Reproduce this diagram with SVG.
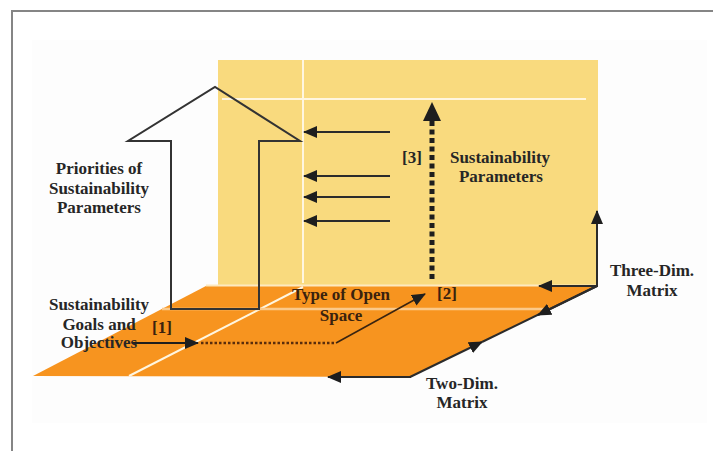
<svg xmlns="http://www.w3.org/2000/svg" width="713" height="451" viewBox="0 0 713 451">
  <style>
    .lbl { font-family: "Liberation Serif", "Times New Roman", serif; font-weight: bold; font-size: 17px; fill: #262626; text-anchor: middle; }
    .lbl-o { fill: #3a220e; }
    .ln { stroke: #2b2b2b; stroke-width: 2; fill: none; }
    .thin { stroke: #3a2410; stroke-width: 1.6; fill: none; }
    .wl { stroke: #fff6e0; stroke-width: 2; fill: none; }
  </style>
  <defs>
    <marker id="ah" markerUnits="userSpaceOnUse" markerWidth="14" markerHeight="12" refX="13" refY="6" orient="auto">
      <path d="M0,0 L14,6 L0,12 z" fill="#1e1e1e"/>
    </marker>
  </defs>

  <!-- page frame -->
  <rect x="0" y="0" width="713" height="451" fill="#ffffff"/>
  <rect x="32" y="40" width="675" height="383" fill="#fdfdfd"/>
  <path d="M12,451 L12,11 L713,11" stroke="#858585" stroke-width="2" fill="none"/>

  <!-- vertical plane -->
  <g id="plane-vertical">
    <rect x="218" y="60" width="380" height="225" fill="#f9da7e"/>
    <line class="wl" x1="303" y1="60" x2="303" y2="283"/>
    <line class="wl" x1="222" y1="99" x2="586" y2="99"/>
  </g>

  <!-- floor plane -->
  <g id="plane-floor">
    <polygon points="33,376 410,377 597,286 206,286" fill="#f7941f"/>
    <line x1="206" y1="285.5" x2="597" y2="285.5" stroke="#fde9c0" stroke-width="2"/>
    <line class="wl" x1="303" y1="287" x2="129" y2="376"/>
    <line x1="162" y1="309" x2="549" y2="309" stroke="#fbc98a" stroke-width="2.5"/>
  </g>

  <!-- large hollow arrow -->
  <g id="priorities-arrow">
    <polygon points="171,309 171,141 128,141 215,87 300,141 259,141 259,309" fill="none" stroke="#333333" stroke-width="2"/>
  </g>

  <!-- connectors -->
  <g id="connectors">
    <!-- parameter arrows on the vertical plane -->
    <line class="ln" x1="390" y1="132" x2="304" y2="132" marker-end="url(#ah)"/>
    <line class="ln" x1="390" y1="176" x2="304" y2="176" marker-end="url(#ah)"/>
    <line class="ln" x1="390" y1="197" x2="304" y2="197" marker-end="url(#ah)"/>
    <line class="ln" x1="390" y1="221" x2="304" y2="221" marker-end="url(#ah)"/>
    <!-- [3] dotted rise -->
    <line x1="432" y1="279" x2="432" y2="121" stroke="#1e1e1e" stroke-width="5" stroke-dasharray="5 3.5"/>
    <path d="M423,121 L432,102 L441,121 z" fill="#1e1e1e"/>
    <!-- [1] goals arrow -->
    <line x1="132" y1="343" x2="198" y2="343" stroke="#1e1e1e" stroke-width="2" marker-end="url(#ah)"/>
    <line x1="201" y1="343" x2="336" y2="343" stroke="#5a2d0c" stroke-width="2.5" stroke-dasharray="2.5 2"/>
    <!-- towards [2] -->
    <line class="thin" x1="336" y1="343" x2="425" y2="294" marker-end="url(#ah)"/>
    <!-- two-dimensional matrix axes -->
    <line class="ln" x1="411" y1="377" x2="328" y2="377" marker-end="url(#ah)"/>
    <line class="ln" x1="410" y1="377" x2="482" y2="342" marker-end="url(#ah)"/>
    <!-- three-dimensional matrix axes -->
    <line class="ln" x1="482" y1="342" x2="597" y2="286"/>
    <line class="ln" x1="597" y1="286" x2="539" y2="286" marker-end="url(#ah)"/>
    <line class="ln" x1="597" y1="287" x2="597" y2="211" marker-end="url(#ah)"/>
    <line class="ln" x1="597" y1="286" x2="538" y2="315" marker-end="url(#ah)"/>
  </g>

  <!-- labels -->
  <g id="label-priorities">
    <text class="lbl" x="99" y="174">Priorities of</text>
    <text class="lbl" x="99" y="194">Sustainability</text>
    <text class="lbl" x="99" y="213">Parameters</text>
  </g>
  <g id="label-goals">
    <text class="lbl" x="99" y="310">Sustainability</text>
    <text class="lbl" x="99" y="330">Goals and</text>
    <text class="lbl" x="99" y="348">Objectives</text>
  </g>
  <g id="label-1">
    <text class="lbl lbl-o" x="162" y="333">[1]</text>
  </g>
  <g id="label-open-space">
    <text class="lbl lbl-o" x="341" y="300">Type of Open</text>
    <text class="lbl lbl-o" x="341" y="321">Space</text>
  </g>
  <g id="label-2">
    <text class="lbl lbl-o" x="447" y="299">[2]</text>
  </g>
  <g id="label-3">
    <text class="lbl" x="412" y="163">[3]</text>
  </g>
  <g id="label-parameters">
    <text class="lbl" x="500" y="163">Sustainability</text>
    <text class="lbl" x="501" y="182">Parameters</text>
  </g>
  <g id="label-three-dim">
    <text class="lbl" x="652" y="276">Three-Dim.</text>
    <text class="lbl" x="652" y="296">Matrix</text>
  </g>
  <g id="label-two-dim">
    <text class="lbl" x="462" y="389">Two-Dim.</text>
    <text class="lbl" x="462" y="408">Matrix</text>
  </g>
</svg>
